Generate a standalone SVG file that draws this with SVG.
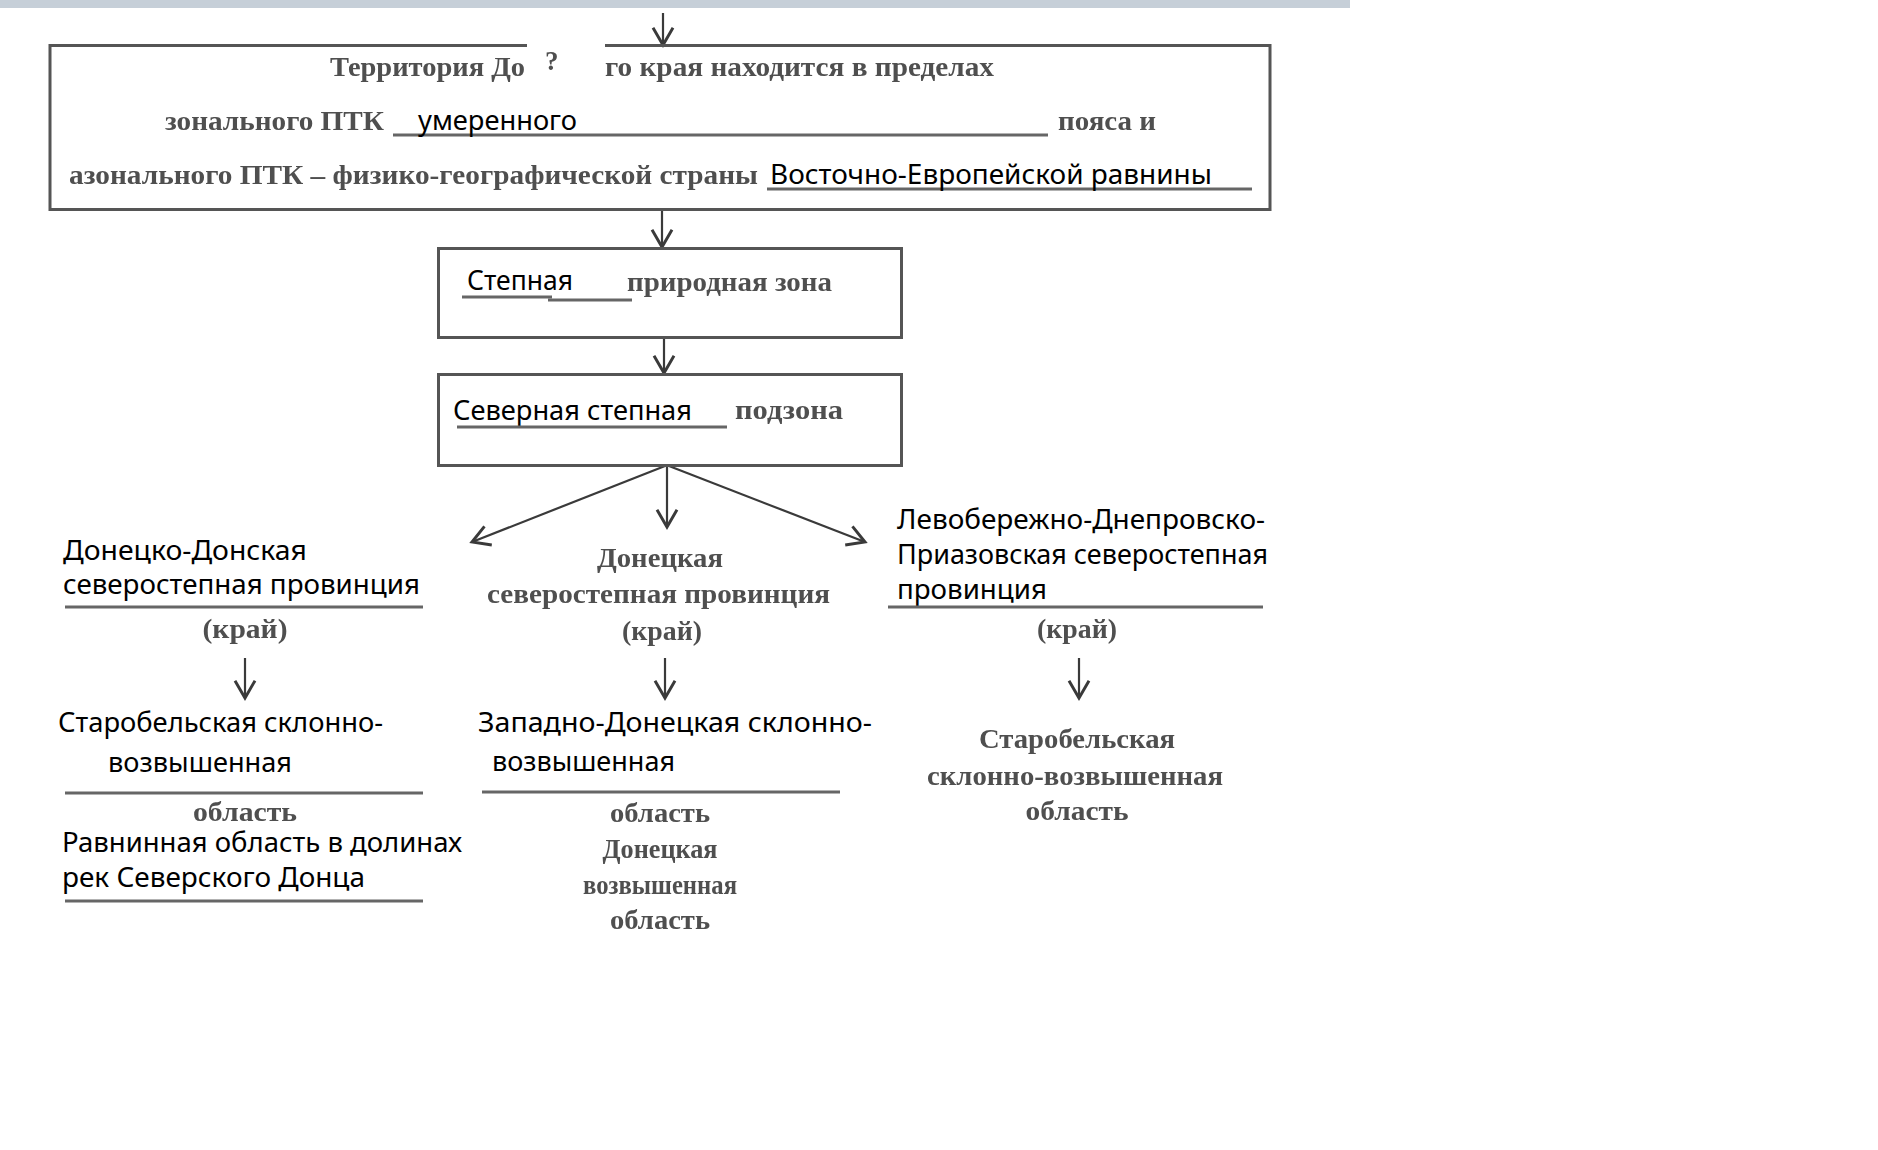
<svg xmlns="http://www.w3.org/2000/svg" width="1878" height="1150" viewBox="0 0 1878 1150">
<defs>
<style>
.box{fill:none;stroke:#555;stroke-width:3}
.ul{stroke:#666;stroke-width:3;fill:none}
.sans{font-family:"Noto Sans","Open Sans","DejaVu Sans",sans-serif;font-size:28px;fill:#000}
.serif{font-family:"Liberation Serif","DejaVu Serif",serif;font-size:27px;font-weight:bold;fill:#505050}
.c{text-anchor:middle}
.con{stroke:#3a3a3a;stroke-width:2.2;fill:none}
</style>
<marker id="ah" markerUnits="userSpaceOnUse" markerWidth="24" markerHeight="24" viewBox="-14 -9 16 18" refX="0" refY="0" orient="auto">
<path d="M-13,-7.5 L0,0 L-13,7.5" fill="none" stroke="#3a3a3a" stroke-width="2.2" stroke-linejoin="miter"/>
</marker>
<filter id="bl" x="-5%" y="-20%" width="110%" height="140%"><feGaussianBlur stdDeviation="0.55"/></filter>
</defs>
<rect x="0" y="0" width="1350" height="8" fill="#c6cfd8"/>

<g id="connectors">
<line class="con" x1="663" y1="13" x2="663" y2="45" marker-end="url(#ah)"/>
<line class="con" x1="662" y1="210" x2="662" y2="247" marker-end="url(#ah)"/>
<line class="con" x1="664" y1="338" x2="664" y2="373" marker-end="url(#ah)"/>
<line class="con" x1="665" y1="466" x2="472" y2="542" marker-end="url(#ah)"/>
<line class="con" x1="667" y1="466" x2="667" y2="527" marker-end="url(#ah)"/>
<line class="con" x1="669" y1="466" x2="865" y2="542" marker-end="url(#ah)"/>
<line class="con" x1="245" y1="658" x2="245" y2="698" marker-end="url(#ah)"/>
<line class="con" x1="665" y1="658" x2="665" y2="698" marker-end="url(#ah)"/>
<line class="con" x1="1079" y1="658" x2="1079" y2="698" marker-end="url(#ah)"/>
</g>

<g id="n-territory">
<path class="box" d="M527,45.5 H50 V209.5 H1270 V45.5 H605"/>
<g filter="url(#bl)">
<text class="serif" x="330" y="76" textLength="195" lengthAdjust="spacingAndGlyphs">Территория До</text>
<text class="serif" x="545" y="70" font-size="26">?</text>
<text class="serif" x="605" y="76" textLength="389" lengthAdjust="spacingAndGlyphs">го края находится в пределах</text>
<text class="serif" x="165" y="130" textLength="219" lengthAdjust="spacingAndGlyphs">зонального ПТК</text>
<text class="serif" x="1058" y="130" textLength="98" lengthAdjust="spacingAndGlyphs">пояса и</text>
<text class="serif" x="69" y="184" textLength="689" lengthAdjust="spacingAndGlyphs">азонального ПТК – физико-географической страны</text>
</g>
<line class="ul" x1="393" y1="135" x2="1048" y2="135"/>
<text class="sans" x="418" y="130" textLength="159" lengthAdjust="spacingAndGlyphs">умеренного</text>
<line class="ul" x1="767" y1="189" x2="1252" y2="189"/>
<text class="sans" x="770" y="184" textLength="442" lengthAdjust="spacingAndGlyphs">Восточно-Европейской равнины</text>
</g>

<g id="n-zone">
<rect class="box" x="438.5" y="248.5" width="463" height="89"/>
<text class="sans" x="467" y="290" textLength="106" lengthAdjust="spacingAndGlyphs">Степная</text>
<line class="ul" x1="462" y1="297" x2="552" y2="297"/>
<line class="ul" x1="548" y1="300" x2="632" y2="300"/>
<text class="serif" x="627" y="291" textLength="205" lengthAdjust="spacingAndGlyphs" filter="url(#bl)">природная зона</text>
</g>

<g id="n-subzone">
<rect class="box" x="438.5" y="374.5" width="463" height="91"/>
<text class="sans" x="453" y="420" textLength="239" lengthAdjust="spacingAndGlyphs">Северная степная</text>
<line class="ul" x1="457" y1="427" x2="727" y2="427"/>
<text class="serif" x="735" y="419" textLength="108" lengthAdjust="spacingAndGlyphs" filter="url(#bl)">подзона</text>
</g>

<g id="n-left-province">
<text class="sans" x="63" y="560" textLength="244" lengthAdjust="spacingAndGlyphs">Донецко-Донская</text>
<text class="sans" x="63" y="594" textLength="357" lengthAdjust="spacingAndGlyphs">северостепная провинция</text>
<line class="ul" x1="65" y1="607" x2="423" y2="607"/>
<text class="serif c" x="245" y="638" textLength="85" lengthAdjust="spacingAndGlyphs" filter="url(#bl)">(край)</text>
</g>

<g id="n-center-province">
<g filter="url(#bl)">
<text class="serif c" x="660" y="567" textLength="126" lengthAdjust="spacingAndGlyphs">Донецкая</text>
<text class="serif" x="487" y="603" textLength="343" lengthAdjust="spacingAndGlyphs">северостепная провинция</text>
<text class="serif c" x="662" y="640" textLength="80" lengthAdjust="spacingAndGlyphs">(край)</text>
</g>
</g>

<g id="n-right-province">
<text class="sans" x="897" y="529" textLength="368" lengthAdjust="spacingAndGlyphs">Левобережно-Днепровско-</text>
<text class="sans" x="897" y="564" textLength="371" lengthAdjust="spacingAndGlyphs">Приазовская северостепная</text>
<text class="sans" x="897" y="599" textLength="150" lengthAdjust="spacingAndGlyphs">провинция</text>
<line class="ul" x1="888" y1="607" x2="1263" y2="607"/>
<text class="serif c" x="1077" y="638" textLength="80" lengthAdjust="spacingAndGlyphs" filter="url(#bl)">(край)</text>
</g>

<g id="n-left-region1">
<text class="sans" x="58" y="732" textLength="325" lengthAdjust="spacingAndGlyphs">Старобельская  склонно-</text>
<text class="sans" x="108" y="772" textLength="184" lengthAdjust="spacingAndGlyphs">возвышенная</text>
<line class="ul" x1="65" y1="793" x2="423" y2="793"/>
<text class="serif c" x="245" y="821" textLength="104" lengthAdjust="spacingAndGlyphs" filter="url(#bl)">область</text>
</g>

<g id="n-left-region2">
<text class="sans" x="62" y="852" textLength="400" lengthAdjust="spacingAndGlyphs">Равнинная область в долинах</text>
<text class="sans" x="62" y="887" textLength="303" lengthAdjust="spacingAndGlyphs">рек Северского Донца</text>
<line class="ul" x1="65" y1="901" x2="423" y2="901"/>
</g>

<g id="n-center-region1">
<text class="sans" x="478" y="732" textLength="394" lengthAdjust="spacingAndGlyphs">Западно-Донецкая склонно-</text>
<text class="sans" x="492" y="771" textLength="183" lengthAdjust="spacingAndGlyphs">возвышенная</text>
<line class="ul" x1="482" y1="792" x2="840" y2="792"/>
<text class="serif c" x="660" y="822" textLength="100" lengthAdjust="spacingAndGlyphs" filter="url(#bl)">область</text>
</g>

<g id="n-center-region2">
<g filter="url(#bl)">
<text class="serif c" x="660" y="858" textLength="115" lengthAdjust="spacingAndGlyphs">Донецкая</text>
<text class="serif c" x="660" y="894" textLength="154" lengthAdjust="spacingAndGlyphs">возвышенная</text>
<text class="serif c" x="660" y="929" textLength="100" lengthAdjust="spacingAndGlyphs">область</text>
</g>
</g>

<g id="n-right-region">
<g filter="url(#bl)">
<text class="serif c" x="1077" y="748" textLength="196" lengthAdjust="spacingAndGlyphs">Старобельская</text>
<text class="serif" x="927" y="785" textLength="296" lengthAdjust="spacingAndGlyphs">склонно-возвышенная</text>
<text class="serif c" x="1077" y="820" textLength="103" lengthAdjust="spacingAndGlyphs">область</text>
</g>
</g>
</svg>
